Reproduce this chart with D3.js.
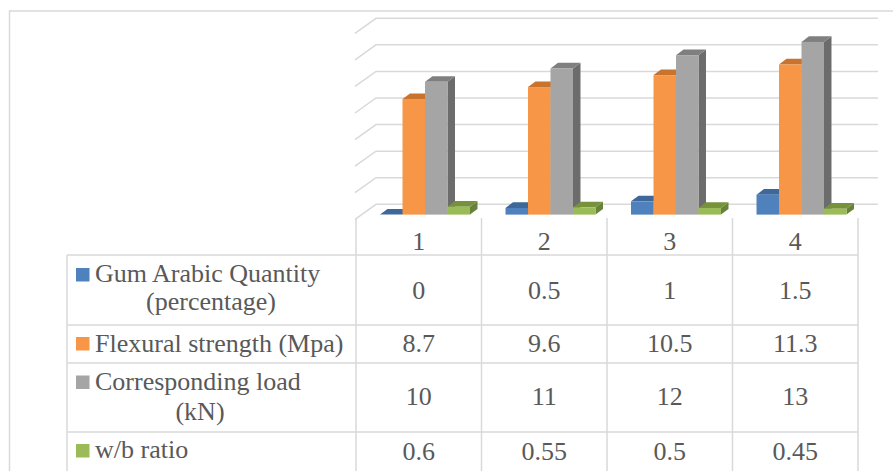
<!DOCTYPE html>
<html>
<head>
<meta charset="utf-8">
<script src="https://cdn.jsdelivr.net/npm/d3@7"></script>
<style>
  html, body { margin: 0; padding: 0; background: #fff; }
  svg { display: block; }
  text { fill: #595959; }
</style>
</head>
<body>
<svg id="chart" width="893" height="471"></svg>
<script>
// ---- data ----
const categories = ["1", "2", "3", "4"];
const seriesNames = ["Gum Arabic Quantity (percentage)", "Flexural strength (Mpa)", "Corresponding load (kN)", "w/b ratio"];
const gumArabic = [0, 0.5, 1, 1.5];
const flexural = [8.7, 9.6, 10.5, 11.3];
const load = [10, 11, 12, 13];
const wbRatio = [0.6, 0.55, 0.5, 0.45];
const valueTicks = [0, 2, 4, 6, 8, 10, 12, 14];
const valueLabels = ["0", "0.5", "1", "1.5", "8.7", "9.6", "10.5", "11.3", "10", "11", "12", "13", "0.6", "0.55", "0.5", "0.45"];

const seriesValues = [gumArabic, flexural, load, wbRatio];
const palette = [
  { front: "#4F81BD", top: "#3E679A", side: "#385D8A" },
  { front: "#F79646", top: "#C8732E", side: "#B5682A" },
  { front: "#A5A5A5", top: "#7F7F7F", side: "#6C6C6C" },
  { front: "#9BBB59", top: "#76933C", side: "#67823A" }
];

const FONT = "'Liberation Serif', 'Times New Roman', Tinos, 'DejaVu Serif', serif";
const svg = d3.select("#chart");
const grid = "#D9D9D9";

// oblique projection for the 3-D floor depth
const DX = 20, DY = 15;
const P = (x, y, d) => [x + DX * d, y - DY * d];

const x0 = d3.scaleBand().domain(categories).range([356, 858]).paddingInner(0).paddingOuter(0);
const x1 = d3.scaleBand().domain(d3.range(seriesNames.length)).range([0, x0.bandwidth()]).paddingInner(0).paddingOuter(0.79);
const y = d3.scaleLinear().domain([0, 14]).range([219.3, 33.3]);

// chart frame
svg.append("path").attr("d", "M9.5,471 V11 H893")
  .attr("fill", "none").attr("stroke", grid).attr("stroke-width", 1.5);

// walls: gridlines on the side wall and the back wall
const line = d3.line();
valueTicks.forEach(t => {
  const pts = [P(x0.range()[0] - 1, y(t), 0), P(x0.range()[0], y(t), 1), P(x0.range()[1], y(t), 1)];
  svg.append("path").attr("d", line(pts))
    .attr("fill", "none").attr("stroke", grid).attr("stroke-width", 1.5);
});

// 3-D columns
const D0 = 0.3125, D1 = 0.6875;
categories.forEach((c, ci) => {
  seriesValues.forEach((vals, si) => {
    const v = vals[ci];
    const xa = x0(c) + x1(si), xb = xa + x1.bandwidth();
    const yv = y(v), yb = y(0);
    const col = palette[si];
    const g = svg.append("g");
    // side face
    g.append("path").attr("d", line([P(xb, yv, D0), P(xb, yb, D0), P(xb, yb, D1), P(xb, yv, D1)]) + "Z")
      .attr("fill", col.side);
    // top face
    g.append("path").attr("d", line([P(xa, yv, D0), P(xb, yv, D0), P(xb, yv, D1), P(xa, yv, D1)]) + "Z")
      .attr("fill", col.top);
    // front face
    const [fx, fy] = P(xa, yv, D0);
    const [, fb] = P(xa, yb, D0);
    if (fb - fy > 0.1) {
      g.append("rect").attr("x", fx).attr("y", fy).attr("width", xb - xa).attr("height", fb - fy)
        .attr("fill", col.front);
    }
  });
});

// data table
const tableLeft = 67;
const rowEdges = [218, 255, 325, 363, 432, 471];
const colEdges = [tableLeft].concat(categories.map(c => x0(c)), [x0.range()[1]]);

// horizontal rules
rowEdges.slice(1, 5).forEach(ry => {
  svg.append("line").attr("x1", tableLeft).attr("x2", x0.range()[1]).attr("y1", ry).attr("y2", ry)
    .attr("stroke", grid).attr("stroke-width", 1.5);
});
// vertical rules
colEdges.forEach((cx, i) => {
  svg.append("line").attr("x1", cx).attr("x2", cx)
    .attr("y1", i === 0 ? rowEdges[1] : rowEdges[0]).attr("y2", 471)
    .attr("stroke", grid).attr("stroke-width", 1.5);
});

const fs = 26;
const addText = (x, yy, anchor, str) =>
  svg.append("text").attr("x", x).attr("y", yy).attr("text-anchor", anchor)
    .attr("font-family", FONT).attr("font-size", fs).text(str);

// category header
categories.forEach(c => addText(x0(c) + x0.bandwidth() / 2, 250, "middle", c));

// row labels with legend keys
const rowLabels = [
  { key: 268, lines: [{ t: "Gum Arabic Quantity", x: 95, y: 282, a: "start" }, { t: "(percentage)", x: 211, y: 310, a: "middle" }], vy: 299 },
  { key: 337, lines: [{ t: "Flexural strength (Mpa)", x: 95, y: 352, a: "start" }], vy: 352 },
  { key: 375.5, lines: [{ t: "Corresponding load", x: 95, y: 390, a: "start" }, { t: "(kN)", x: 200, y: 420, a: "middle" }], vy: 405 },
  { key: 444, lines: [{ t: "w/b ratio", x: 95, y: 458, a: "start" }], vy: 460 }
];

rowLabels.forEach((r, si) => {
  svg.append("rect").attr("x", 76).attr("y", r.key).attr("width", 13.5).attr("height", 13.5)
    .attr("fill", palette[si].front);
  r.lines.forEach(l => addText(l.x, l.y, l.a, l.t));
  categories.forEach((c, ci) =>
    addText(x0(c) + x0.bandwidth() / 2, r.vy, "middle", valueLabels[si * categories.length + ci]));
});
</script>
</body>
</html>
